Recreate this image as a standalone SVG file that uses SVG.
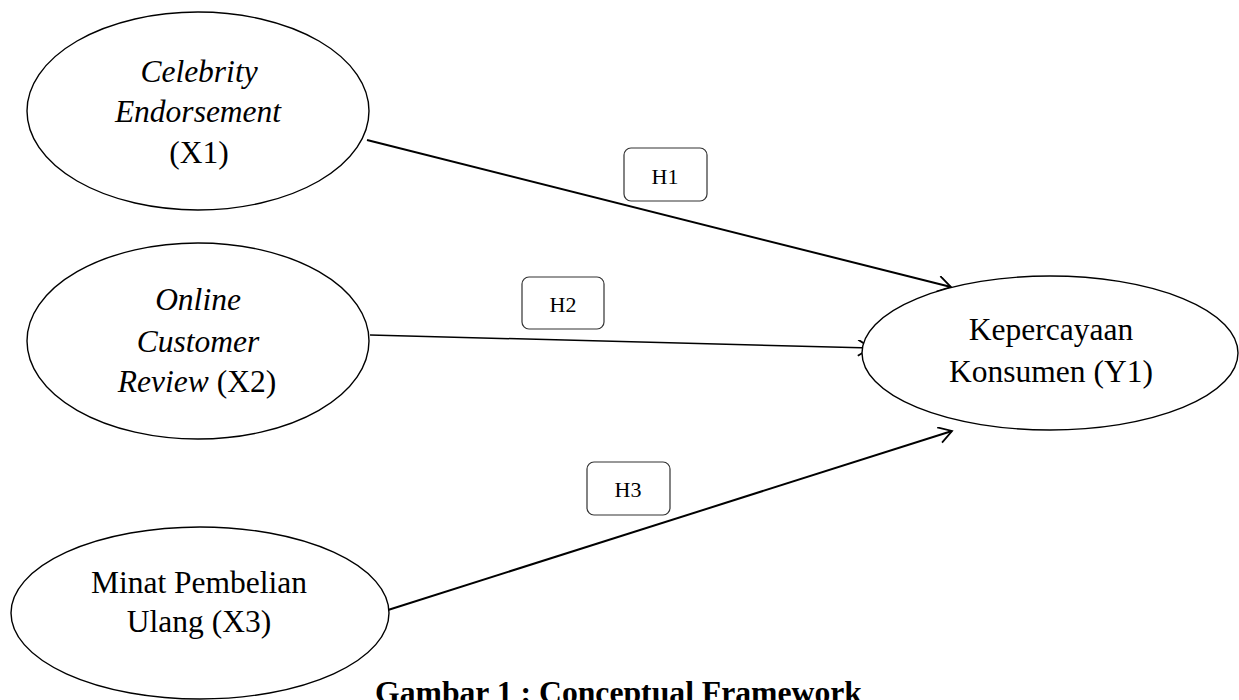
<svg xmlns="http://www.w3.org/2000/svg" width="1239" height="700" viewBox="0 0 1239 700">
<style>
.node{fill:#fff;stroke:#000;stroke-width:1.4}
.t{font-family:"Liberation Serif","Times New Roman",serif;font-size:31.5px;fill:#000;text-anchor:middle}
.i{font-style:italic}
.lab{fill:#fff;stroke:#333;stroke-width:1.2}
.lt{font-family:"Liberation Serif","Times New Roman",serif;font-size:22px;fill:#000;text-anchor:middle}
.c{fill:none;stroke:#000}
.title{font-family:"Liberation Serif","Times New Roman",serif;font-size:31.7px;font-weight:bold;fill:#000}
</style>
<defs>
<marker id="arr" markerWidth="20" markerHeight="20" refX="14" refY="8" orient="auto" markerUnits="userSpaceOnUse">
<path d="M1,0 L14,8 L1,16" fill="none" stroke="#000" stroke-width="1.8"/>
</marker>
</defs>
<g id="connectors">
<line class="c" x1="367" y1="140" x2="951" y2="287" stroke-width="2" marker-end="url(#arr)"/>
<line class="c" x1="370" y1="335" x2="871" y2="348" stroke-width="1.5" marker-end="url(#arr)"/>
<line class="c" x1="388" y1="610" x2="952" y2="431" stroke-width="2" marker-end="url(#arr)"/>
</g>
<g id="node-x1">
<ellipse class="node" cx="198" cy="111" rx="171" ry="99"/>
<text class="t i" x="199" y="82">Celebrity</text>
<text class="t i" x="198" y="122">Endorsement</text>
<text class="t" x="199" y="163">(X1)</text>
</g>
<g id="node-x2">
<ellipse class="node" cx="198" cy="341" rx="171" ry="98"/>
<text class="t i" x="198" y="310">Online</text>
<text class="t i" x="198" y="352">Customer</text>
<text class="t" x="197" y="392"><tspan class="i">Review</tspan> (X2)</text>
</g>
<g id="node-x3">
<ellipse class="node" cx="200" cy="613" rx="189" ry="86"/>
<text class="t" x="199" y="593">Minat Pembelian</text>
<text class="t" x="199" y="632">Ulang (X3)</text>
</g>
<g id="node-y1">
<ellipse class="node" cx="1050" cy="353" rx="188" ry="77"/>
<text class="t" x="1051" y="340">Kepercayaan</text>
<text class="t" x="1051" y="382">Konsumen (Y1)</text>
</g>
<g id="label-h1">
<rect class="lab" x="624" y="148" width="83" height="53" rx="7"/>
<text class="lt" x="665" y="184">H1</text>
</g>
<g id="label-h2">
<rect class="lab" x="522" y="277" width="82" height="52" rx="7"/>
<text class="lt" x="563" y="312">H2</text>
</g>
<g id="label-h3">
<rect class="lab" x="587" y="462" width="83" height="53" rx="7"/>
<text class="lt" x="628" y="497">H3</text>
</g>
<text class="title" x="375" y="703">Gambar 1 : Conceptual Framework</text>
</svg>
